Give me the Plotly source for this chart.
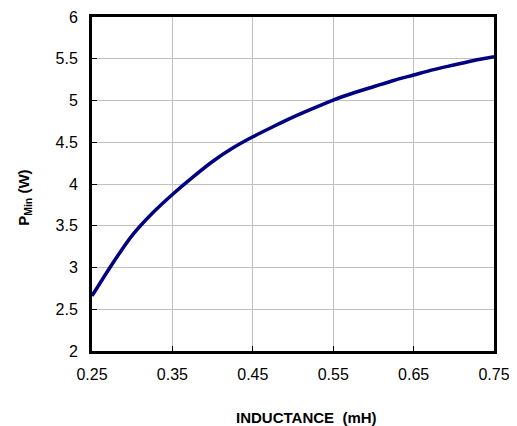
import plotly.graph_objects as go

# inductance (mH) vs minimum power (W)
inductance = [0.25, 0.275, 0.30, 0.325, 0.35, 0.375, 0.40, 0.425, 0.45, 0.475, 0.50,
              0.525, 0.55, 0.575, 0.60, 0.625, 0.65, 0.675, 0.70, 0.725, 0.75]
p_min = [2.66, 3.04, 3.385, 3.65, 3.875, 4.08, 4.27, 4.43, 4.565, 4.685, 4.80,
         4.905, 5.005, 5.09, 5.165, 5.24, 5.305, 5.37, 5.425, 5.48, 5.525]

x_ticks = [0.25, 0.35, 0.45, 0.55, 0.65, 0.75]
y_ticks = [2, 2.5, 3, 3.5, 4, 4.5, 5, 5.5, 6]

FONT = "Liberation Sans, Arial, sans-serif"

fig = go.Figure()
fig.add_trace(go.Scatter(
    x=inductance, y=p_min, mode="lines",
    line=dict(color="#000080", width=3.5, shape="spline", smoothing=0.8),
    showlegend=False,
))

axis_common = dict(
    showline=True, linecolor="black", linewidth=3, mirror=True,
    showgrid=True, gridcolor="#c0c0c0", gridwidth=1,
    ticks="inside", ticklen=5, tickcolor="black", tickwidth=1,
    zeroline=False, automargin=False,
    tickfont=dict(family=FONT, size=16, color="black"),
)

fig.update_xaxes(
    range=[0.25, 0.75], tickvals=x_ticks, ticktext=[f"{v:.2f}" for v in x_ticks],
    ticklabelstandoff=7,
    **axis_common,
)
fig.update_yaxes(
    range=[2, 6], tickvals=y_ticks, ticktext=[f"{v:g}" for v in y_ticks],
    ticklabelstandoff=8,
    **axis_common,
)

# axis titles as annotations so they sit where the reference has them
fig.add_annotation(
    text="<b>INDUCTANCE&nbsp;&nbsp;(mH)</b>", xref="paper", yref="paper",
    x=0.534, y=-0.198, showarrow=False, xanchor="center", yanchor="middle",
    font=dict(family=FONT, size=15, color="black"),
)
fig.add_annotation(
    text="<b>P<sub>Min</sub> (W)</b>", xref="paper", yref="paper",
    x=-0.168, y=0.46, showarrow=False, xanchor="center", yanchor="middle",
    textangle=-90, font=dict(family=FONT, size=15, color="black"),
)

# page body adds ~8px offset, so the figure is sized to fit the window
fig.update_layout(
    width=509, height=418,
    margin=dict(l=84, r=23, t=9, b=75),
    plot_bgcolor="white", paper_bgcolor="white",
    font=dict(family=FONT, color="black"),
)

fig.write_html("out.html")
